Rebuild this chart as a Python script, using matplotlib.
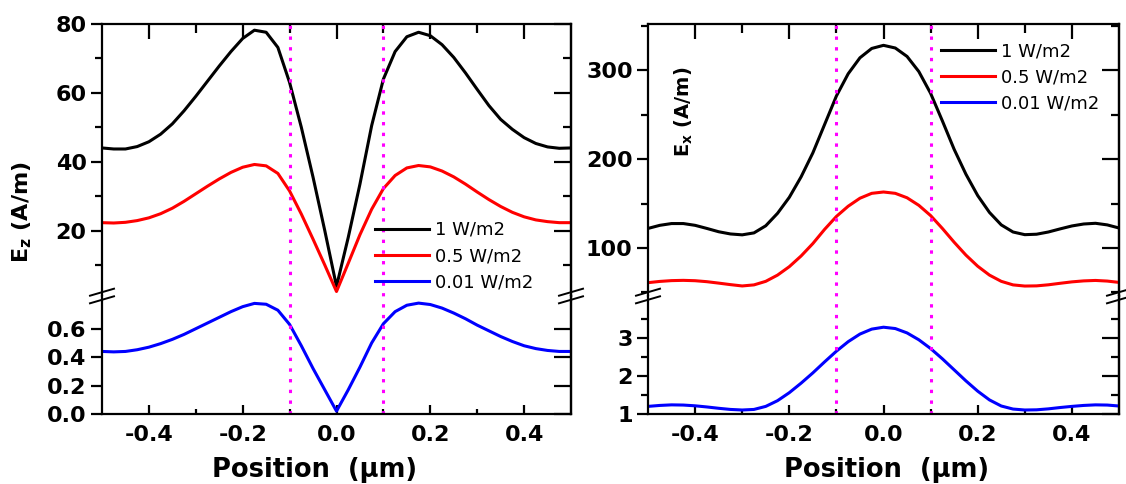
import numpy as np
import matplotlib
matplotlib.use("Agg")
import matplotlib.pyplot as plt
from matplotlib.ticker import FixedLocator
from matplotlib.lines import Line2D

# position along the cut (um), same grid for every curve
position = np.linspace(-0.5, 0.5, 41)
labels = ["1 W/m2", "0.5 W/m2", "0.01 W/m2"]
colors = ["black", "red", "blue"]

# Ez (A/m)
ez_1 = [44.0, 43.7, 43.7, 44.4, 45.8, 48.0, 51.0, 54.8, 59.0, 63.4, 67.8, 72.0, 75.8, 78.2, 77.6,
        73.2, 63.0, 50.0, 35.5, 20.0, 3.8, 18.0, 33.5, 50.5, 64.0, 72.0, 76.3, 77.6, 76.6, 74.0,
        70.3, 65.8, 61.0, 56.3, 52.3, 49.4, 47.0, 45.3, 44.3, 43.9, 44.0]
ez_05 = [22.3, 22.2, 22.4, 22.9, 23.7, 24.9, 26.5, 28.5, 30.7, 32.9, 35.0, 36.9, 38.4, 39.2, 38.8,
         36.6, 31.5, 24.8, 17.5, 10.0, 2.3, 10.5, 18.8, 26.2, 32.2, 36.0, 38.2, 38.9, 38.5, 37.3,
         35.6, 33.5, 31.2, 29.0, 27.0, 25.3, 24.0, 23.1, 22.6, 22.3, 22.3]
ez_001 = [0.44, 0.437, 0.44, 0.452, 0.47, 0.495, 0.525, 0.56, 0.60, 0.64, 0.68, 0.72, 0.755, 0.778, 0.772,
          0.73, 0.63, 0.48, 0.32, 0.17, 0.02, 0.17, 0.33, 0.50, 0.635, 0.72, 0.765, 0.78, 0.77, 0.745,
          0.71, 0.67, 0.625, 0.585, 0.545, 0.51, 0.48, 0.46, 0.447, 0.44, 0.44]

# Ex (A/m)
ex_1 = [122, 125.5, 127.5, 127.5, 125.5, 122, 118.3, 115.8, 114.8, 117, 125, 139, 157, 180, 207,
        239, 271, 296, 314, 324.5, 328, 325, 315.5, 298.5, 274, 243, 211, 183, 159, 140,
        126, 118, 115, 115.5, 118, 121.5, 124.8, 127, 127.8, 126, 122.5]
ex_05 = [61, 62.4, 63.3, 63.6, 63.2, 62.1, 60.5, 58.8, 57.3, 58.5, 62.5, 69.5, 79, 91, 105,
         121, 135.5, 147, 156, 161.5, 163, 161.5, 156.5, 148, 136.5, 122, 106.5, 92, 79.5, 69.5,
         62.5, 58.5, 57.2, 57.4, 58.6, 60.3, 61.9, 63, 63.5, 62.8, 61.3]
ex_001 = [1.2, 1.225, 1.24, 1.235, 1.215, 1.185, 1.15, 1.12, 1.105, 1.12, 1.2, 1.35, 1.56, 1.81, 2.08,
          2.37, 2.65, 2.9, 3.1, 3.23, 3.28, 3.245, 3.13, 2.95, 2.72, 2.45, 2.16, 1.87, 1.6, 1.37,
          1.21, 1.13, 1.105, 1.11, 1.135, 1.17, 1.2, 1.225, 1.24, 1.235, 1.21]

plt.rcParams["font.family"] = "DejaVu Sans"
plt.rcParams["font.weight"] = "bold"
plt.rcParams["mathtext.fontset"] = "dejavusans"
plt.rcParams["axes.unicode_minus"] = False

W, H = 1126, 484
fig = plt.figure(figsize=(W / 100, H / 100), dpi=100)

LW_AX = 1.6
MAGENTA = "#ff00ff"


def px(x, y):
    # pixel position (from top-left) -> figure fraction
    return x / W, 1 - y / H


def style_y(ax, major, minor):
    ax.yaxis.set_major_locator(FixedLocator(major))
    ax.yaxis.set_minor_locator(FixedLocator(minor))
    ax.tick_params(axis="y", which="major", direction="out", length=8, width=LW_AX,
                   labelsize=16, right=False, pad=3)
    ax.tick_params(axis="y", which="minor", direction="out", length=5, width=LW_AX, right=False)
    sec = ax.secondary_yaxis("right")
    sec.yaxis.set_major_locator(FixedLocator(major))
    sec.yaxis.set_minor_locator(FixedLocator(minor))
    sec.tick_params(which="major", direction="in", length=12, width=LW_AX, labelright=False)
    sec.tick_params(which="minor", direction="in", length=6, width=LW_AX)
    sec.spines["right"].set_linewidth(LW_AX)


def make_panel(x0, x1, top_lim, bot_lim, top_ticks, bot_ticks, curves):
    left, right = x0 / W, x1 / W
    y_top, y_break, y_bot = 24, 296, 414
    ax_t = fig.add_axes([left, 1 - y_break / H, right - left, (y_break - y_top) / H])
    ax_b = fig.add_axes([left, 1 - y_bot / H, right - left, (y_bot - y_break) / H])

    for i, (ys, ax) in enumerate(zip(curves, [ax_t, ax_t, ax_b])):
        ax.plot(position, ys, color=colors[i], lw=2.2, label=labels[i])

    for ax in (ax_t, ax_b):
        ax.set_xlim(-0.5, 0.5)
        for xv in (-0.1, 0.1):
            ax.axvline(xv, color=MAGENTA, lw=2.2, linestyle=(0, (1.1, 2.4)))
        for s in ax.spines.values():
            s.set_linewidth(LW_AX)
        ax.xaxis.set_major_locator(FixedLocator([-0.4, -0.2, 0.0, 0.2, 0.4]))
        ax.xaxis.set_minor_locator(FixedLocator([-0.3, -0.1, 0.1, 0.3]))

    ax_t.set_ylim(*top_lim)
    ax_b.set_ylim(*bot_lim)
    ax_t.spines["bottom"].set_visible(False)
    ax_b.spines["top"].set_visible(False)

    ax_t.tick_params(axis="x", which="major", direction="in", length=11, width=LW_AX,
                     top=True, bottom=False, labelbottom=False)
    ax_t.tick_params(axis="x", which="minor", direction="in", length=6.5, width=LW_AX,
                     top=True, bottom=False)
    ax_b.tick_params(axis="x", which="major", direction="in", length=6.5, width=LW_AX,
                     top=False, labelsize=16, pad=8)
    ax_b.tick_params(axis="x", which="minor", direction="in", length=3.5, width=LW_AX, top=False)

    style_y(ax_t, *top_ticks)
    style_y(ax_b, *bot_ticks)

    # break marks on both vertical spines
    for xs in (x0, x1):
        for off in (-3.8, 3.8):
            a = px(xs - 12, y_break + off + 3.5)
            b = px(xs + 12, y_break + off - 3.5)
            fig.add_artist(Line2D([a[0], b[0]], [a[1], b[1]], color="black", lw=1.4,
                                  transform=fig.transFigure))
    return ax_t, ax_b


axL_t, axL_b = make_panel(102, 571, (1.0, 80.0), (0.0, 0.83),
                          ([20, 40, 60, 80], [10, 30, 50, 70]),
                          ([0.0, 0.2, 0.4, 0.6], []),
                          [ez_1, ez_05, ez_001])
axR_t, axR_b = make_panel(648, 1119, (46, 352), (1.0, 4.1),
                          ([100, 200, 300], [50, 150, 250, 350]),
                          ([1, 2, 3], [1.5, 2.5, 3.5]),
                          [ex_1, ex_05, ex_001])

axR_b.set_yticklabels(["1", "2", "3"])

# legends (built from both halves of each panel)
for ax_t, ax_b, anchor in ((axL_t, axL_b, px(375, 221)), (axR_t, axR_b, px(941, 42))):
    h, l = ax_t.get_legend_handles_labels()
    h2, l2 = ax_b.get_legend_handles_labels()
    ax_t.legend(h + h2, l + l2, loc="upper left", bbox_to_anchor=anchor,
                bbox_transform=fig.transFigure, frameon=False, borderpad=0,
                borderaxespad=0, handlelength=3.0, handletextpad=0.3, labelspacing=0.45,
                prop={"size": 13, "weight": "normal"})

# axis titles
fig.text(*px(22, 212), r"$\mathbf{E_z}$ (A/m)", rotation=90, fontsize=16,
         ha="center", va="center")
fig.text(*px(684, 112), r"$\mathbf{E_x}$ (A/m)", rotation=90, fontsize=14,
         ha="center", va="center")
for cx in (315, 887):
    fig.text(*px(cx, 477), "Position  (\u03bcm)", fontsize=18.5, ha="center", va="baseline")

fig.savefig("out.png", dpi=100)
